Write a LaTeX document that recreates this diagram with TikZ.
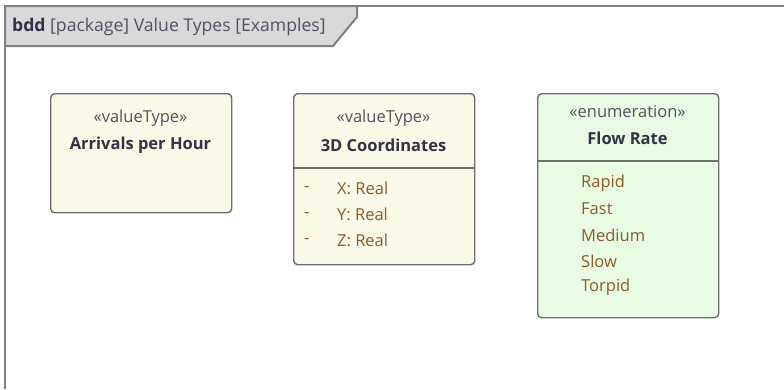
\documentclass[tikz,border=0pt]{standalone}
\usepackage{fontspec}
\setmainfont{Open Sans}
\usepackage{tikz}
\usetikzlibrary{positioning}
\definecolor{framegray}{RGB}{128, 128, 128}
\definecolor{tabgray}{RGB}{217, 217, 217}
\definecolor{boxline}{RGB}{110, 110, 110}
\definecolor{creamfill}{RGB}{251, 249, 232}
\definecolor{enumfill}{RGB}{232, 252, 228}
\definecolor{stereotext}{RGB}{85, 80, 100}
\definecolor{nametext}{RGB}{50, 50, 70}
\definecolor{itemtext}{RGB}{140, 90, 45}

\begin{document}
\begin{tikzpicture}[x=1pt, y=-1pt,
        block/.style={draw=boxline, line width=1.4pt, rounded corners=4pt,
                      anchor=north west, minimum width=181pt, inner sep=0pt},
        stereo/.style={text=stereotext, font=\fontsize{16.5}{19}\selectfont},
        title/.style={text=nametext, font=\fontsize{16.5}{19}\selectfont\bfseries},
        item/.style={text=itemtext, anchor=west, inner sep=0pt, font=\fontsize{16.5}{19}\selectfont}]
    \useasboundingbox (0,0) rectangle (784,389);

    % diagram frame and its name tab
    \draw[framegray, line width=2pt] (5,389) -- (5,6) -- (784,6);
    \draw[framegray, line width=2pt, fill=tabgray]
        (5,6) -- (357,6) -- (357,17) -- (333,46) -- (5,46) -- cycle;
    \node[anchor=west, inner sep=0pt, font=\fontsize{17.6}{20}\selectfont] (header)
        at (12,27) {\textcolor{nametext}{\bfseries bdd} \textcolor{stereotext}{[package] Value Types [Examples]}};

    % value types
    \node[block, fill=creamfill, minimum height=119pt] (arrivals) at (50,93) {};
    \node[stereo] (arrivalsst) at (140.5,118) {«valueType»};
    \node[title] (arrivalsname) at (140.5,145) {Arrivals per Hour};

    \node[block, fill=creamfill, minimum height=171pt] (coords) at (293,93) {};
    \node[stereo] (coordsst) at (383.5,118) {«valueType»};
    \node[title] (coordsname) at (383.5,145) {3D Coordinates};
    \draw[boxline, line width=1.4pt] (coords.west |- 0,168) -- (coords.east |- 0,168);
    \foreach \attr/\ypos in {X/188, Y/214, Z/240} {
        \node[item] at (304,\ypos+1) {-};
        \node[item] at (337,\ypos) {\attr: Real};
    }

    % enumeration
    \node[block, fill=enumfill, minimum height=224pt] (flow) at (537,93) {};
    \node[stereo] (flowst) at (627.5,112) {«enumeration»};
    \node[title] (flowname) at (627.5,138) {Flow Rate};
    \draw[boxline, line width=1.4pt] (flow.west |- 0,161) -- (flow.east |- 0,161);
    \foreach \lit [count=\i] in {Rapid, Fast, Medium, Slow, Torpid} {
        \node[item] at (581,157+26*\i) {\lit};
    }
\end{tikzpicture}
\end{document}
